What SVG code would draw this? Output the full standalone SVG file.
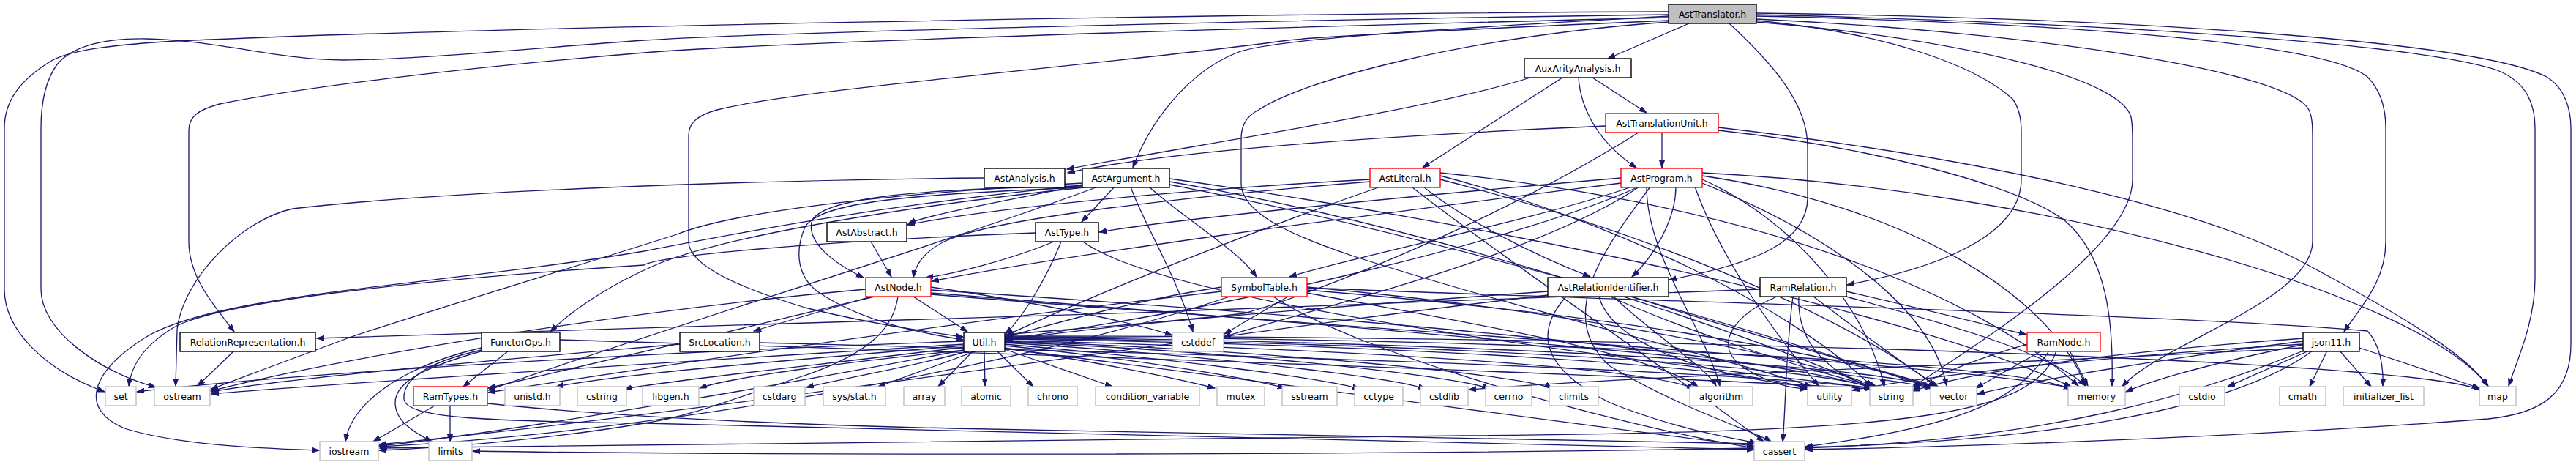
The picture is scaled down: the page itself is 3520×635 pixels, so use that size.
<svg xmlns="http://www.w3.org/2000/svg" width="3520" height="635" viewBox="0 0 3520 635">
<defs>
<marker id="ah" markerWidth="11" markerHeight="8" refX="10" refY="3.5" orient="auto" markerUnits="userSpaceOnUse"><polygon points="0,0 10,3.5 0,7" fill="#191970" stroke="#191970"/></marker>
<style>
.e path{fill:none;stroke:#191970;stroke-width:1.3;marker-end:url(#ah)}
.n rect{fill:#fff;stroke:#000;stroke-width:1.4}
.r rect{fill:#fff;stroke:#ff0000;stroke-width:1.4}
.s rect{fill:#fff;stroke:#bfbfbf;stroke-width:1.4}
.g rect{fill:#bfbfbf;stroke:#000;stroke-width:1.4}
text{font-family:"DejaVu Sans","Liberation Sans",sans-serif;font-size:12.5px;fill:#000;text-anchor:middle}
</style>
</defs>
<rect width="3520" height="635" fill="#fff"/>
<g id="edges" class="e">
<path d="M2308,32 L2197,80"/>
<path d="M2280,22 C2000,38 1740,52 1690,72 C1620,100 1570,170 1548,229"/>
<path d="M2363,32 C2420,85 2470,140 2470,200 L2470,270 C2470,330 2400,360 2281,382"/>
<path d="M2400,28 C2580,45 2700,90 2750,135 C2760,148 2762,165 2762,180 L2762,245 C2762,310 2680,360 2524,389"/>
<path d="M2400,30 C2700,55 2900,110 2912,160 C2914,170 2914,180 2914,190 L2914,245 C2914,340 2700,470 2613,529"/>
<path d="M2400,26 C2800,45 3130,100 3155,150 C3160,160 3160,175 3160,190 L3160,330 C3160,410 2950,470 2900,528"/>
<path d="M2400,22 C2850,32 3180,60 3235,105 C3255,125 3260,150 3260,175 L3260,330 C3260,385 3225,420 3203,453"/>
<path d="M2400,20 C2900,32 3300,60 3410,95 C3455,112 3464,145 3464,175 L3464,380 C3464,440 3440,490 3428,527"/>
<path d="M2400,18 C2900,24 3380,55 3480,105 C3505,120 3513,150 3513,175 L3513,470 C3513,540 3470,565 3400,572 C3100,595 2700,610 2467,614"/>
<path d="M2280,16 C1700,18 600,38 224,57 C150,62 100,68 72,82 C25,110 6,140 6,175 L6,395 C6,450 60,505 143,535"/>
<path d="M2280,20 C1800,26 1050,44 880,55 C700,68 560,82 470,82 C380,82 300,55 200,53 C130,52 95,68 78,88 C62,110 56,140 56,175 L56,395 C56,450 130,505 213,529"/>
<path d="M2280,24 C1700,38 1050,58 880,72 C600,95 400,122 300,142 C270,150 258,160 258,178 L258,330 C258,380 295,420 320,453"/>
<path d="M2280,28 C2000,40 1800,50 1760,55 C1500,90 1100,120 980,150 C950,158 941,170 941,185 L941,330 C941,360 1000,390 1100,420 C1200,445 1280,455 1316,460"/>
<path d="M2280,30 C2000,50 1780,110 1720,150 C1700,160 1696,175 1696,190 L1696,250 C1696,290 1760,320 1850,350 C2100,430 2400,500 2475,528"/>
<path d="M2091,106 C1950,150 1650,195 1458,231"/>
<path d="M2135,106 L1944,229"/>
<path d="M2157,106 C2160,150 2185,195 2236,229"/>
<path d="M2176,106 L2250,154"/>
<path d="M2271,181 L2271,229"/>
<path d="M2194,172 C1900,185 1600,205 1459,236"/>
<path d="M2239,181 C2050,300 1800,400 1700,428 C1550,445 1420,452 1375,457"/>
<path d="M2348,178 C2550,200 2750,250 2820,300 C2880,350 2888,440 2886,527"/>
<path d="M2348,174 C2700,215 3000,280 3150,360 C3300,440 3375,490 3399,527"/>
<path d="M1345,243 C1000,246 600,262 400,285 C330,300 250,380 242,450 L240,527"/>
<path d="M1479,252 C1400,270 1280,290 1241,305"/>
<path d="M1479,254 C1250,258 1130,270 1110,300 C1100,330 1140,360 1180,379"/>
<path d="M1479,256 C1250,265 1120,275 1100,310 C1085,345 1090,380 1120,400 C1180,440 1260,455 1316,464"/>
<path d="M1523,255 L1478,303"/>
<path d="M1545,255 C1560,300 1610,380 1630,453"/>
<path d="M1570,255 C1620,300 1690,340 1717,378"/>
<path d="M1481,256 C1250,280 1000,320 900,360 C830,390 780,425 752,453"/>
<path d="M1480,250 C1200,265 1000,290 925,320 C800,360 600,420 480,460 C400,490 330,515 288,532"/>
<path d="M1598,248 C1900,300 2300,420 2558,529"/>
<path d="M1598,252 C1950,320 2400,450 2640,530"/>
<path d="M1598,244 C2000,300 2600,420 2830,528"/>
<path d="M1480,253 C1200,280 1000,320 880,343 C600,390 300,400 200,460 C120,510 110,560 170,585 C250,610 380,613 436,615"/>
<path d="M1500,255 C1300,330 900,450 667,533"/>
<path d="M1872,245 C1600,260 1350,285 1240,307"/>
<path d="M1872,248 C1600,270 1350,300 1290,330 C1260,345 1250,365 1248,379"/>
<path d="M1945,255 C2000,300 2100,350 2173,378"/>
<path d="M1886,255 C1700,320 1500,400 1375,458"/>
<path d="M1968,240 C2200,300 2450,420 2558,528"/>
<path d="M1968,245 C2300,330 2550,450 2645,528"/>
<path d="M1968,236 C2400,280 2700,400 2840,527"/>
<path d="M1930,256 C2050,350 2300,520 2410,603"/>
<path d="M2215,243 C1900,270 1600,300 1502,317"/>
<path d="M2215,250 C1900,290 1500,340 1273,384"/>
<path d="M2290,255 C2290,300 2260,350 2230,378"/>
<path d="M2230,255 C2100,300 1850,350 1762,378"/>
<path d="M2239,255 C2100,320 1700,420 1374,463"/>
<path d="M2240,255 C2100,350 1800,420 1672,460"/>
<path d="M2255,255 C2200,330 2120,430 2200,500 C2300,560 2400,590 2420,603"/>
<path d="M2316,255 C2350,350 2420,450 2485,527"/>
<path d="M2326,245 C2450,300 2550,420 2575,528"/>
<path d="M2326,250 C2500,320 2640,420 2660,527"/>
<path d="M2326,240 C2600,280 2800,400 2850,527"/>
<path d="M2326,236 C2800,260 3300,400 3400,527"/>
<path d="M2250,255 C2250,350 2330,450 2350,527"/>
<path d="M1190,330 L1218,378"/>
<path d="M1440,330 C1380,355 1300,375 1265,379"/>
<path d="M1450,330 C1430,380 1400,430 1374,456"/>
<path d="M1415,318 C1100,330 900,350 880,362 C600,380 300,410 236,448 C200,470 180,495 176,527"/>
<path d="M1480,330 C1600,420 2300,500 2560,530"/>
<path d="M1190,405 L1030,452"/>
<path d="M1248,405 L1322,453"/>
<path d="M1272,392 C1400,410 1550,440 1602,458"/>
<path d="M1183,395 C900,420 500,480 288,534"/>
<path d="M1195,405 C1050,440 800,500 667,530"/>
<path d="M1227,405 C1222,440 1200,480 1093,515 C1000,545 940,570 880,578 C750,600 600,612 518,615"/>
<path d="M1272,396 C1800,430 2400,480 2560,530"/>
<path d="M1272,400 C1900,450 2500,500 2642,530"/>
<path d="M1272,402 C2000,460 2700,500 2830,530"/>
<path d="M1669,392 C1550,410 1450,440 1374,460"/>
<path d="M1760,405 L1673,456"/>
<path d="M1786,392 C2100,420 2450,480 2565,529"/>
<path d="M1680,405 C1400,500 900,590 518,610"/>
<path d="M1740,405 C1850,480 2200,580 2397,612"/>
<path d="M1669,398 C1300,440 900,500 667,536"/>
<path d="M1786,400 C2000,440 2250,480 2320,528"/>
<path d="M1786,396 C2200,430 2500,480 2645,530"/>
<path d="M1786,393 C2200,410 3000,430 3235,452 C3252,470 3257,500 3256,527"/>
<path d="M2115,398 C1800,420 1500,445 1374,465"/>
<path d="M2140,405 C2100,450 2100,500 2200,550 C2300,590 2380,600 2400,605"/>
<path d="M2185,405 C2200,460 2300,510 2478,529"/>
<path d="M2200,405 C2300,450 2450,500 2565,529"/>
<path d="M2230,405 C2400,460 2550,500 2650,529"/>
<path d="M2115,403 C1700,450 1000,560 518,607"/>
<path d="M2205,405 C2250,450 2330,500 2345,527"/>
<path d="M2405,395 C1800,420 900,450 433,462"/>
<path d="M2523,398 C2620,420 2700,440 2769,457"/>
<path d="M2428,405 C2370,430 2340,470 2380,500 C2410,520 2440,530 2470,531"/>
<path d="M2458,405 C2455,470 2500,510 2560,530"/>
<path d="M2478,405 C2550,460 2620,510 2648,528"/>
<path d="M2450,405 C2440,480 2440,560 2436,603"/>
<path d="M2523,405 C2650,440 2800,480 2850,527"/>
<path d="M320,479 L270,527"/>
<path d="M695,479 L633,528"/>
<path d="M658,475 C550,500 480,550 472,603"/>
<path d="M658,478 C580,495 550,520 552,545 C555,570 650,575 880,578 C1400,590 2100,608 2397,614"/>
<path d="M660,479 C585,500 540,520 540,550 C540,575 565,590 590,603"/>
<path d="M765,464 C1300,480 2200,510 2558,531"/>
<path d="M929,470 C700,490 400,515 289,535"/>
<path d="M1038,468 C1500,480 2300,500 2557,530"/>
<path d="M1320,478 C1150,495 1000,515 956,530"/>
<path d="M1325,479 C1250,500 1160,515 1102,529"/>
<path d="M1335,479 L1200,528"/>
<path d="M1330,479 L1282,528"/>
<path d="M1345,479 L1346,527"/>
<path d="M1362,479 L1412,528"/>
<path d="M1373,477 L1520,528"/>
<path d="M1373,475 C1500,495 1600,515 1660,530"/>
<path d="M1373,472 C1550,490 1700,515 1756,530"/>
<path d="M1373,470 C1600,490 1800,515 1858,531"/>
<path d="M1373,468 C1650,485 1900,515 1948,531"/>
<path d="M1373,467 C1700,480 2000,515 2035,531"/>
<path d="M1373,466 C1750,478 2100,515 2120,531"/>
<path d="M1373,465 C1800,475 2250,500 2315,531"/>
<path d="M1373,463 C1900,470 2400,500 2472,532"/>
<path d="M1373,462 C1950,468 2500,500 2560,531"/>
<path d="M1373,461 C2000,466 2600,500 2643,531"/>
<path d="M1373,460 C2100,462 2780,495 2830,533"/>
<path d="M1373,459 C2200,458 3300,490 3390,533"/>
<path d="M1373,476 C1800,530 2300,600 2397,609"/>
<path d="M1317,478 C1100,520 700,590 518,609"/>
<path d="M1317,466 C900,480 400,510 187,535"/>
<path d="M1317,470 C1000,490 500,520 289,538"/>
<path d="M1317,472 C1100,490 850,510 760,528"/>
<path d="M1317,474 C1150,495 950,515 853,531"/>
<path d="M594,554 L510,603"/>
<path d="M615,554 L615,603"/>
<path d="M666,551 C800,565 1000,578 1300,585 C1800,595 2200,600 2397,606"/>
<path d="M2790,479 L2700,530"/>
<path d="M2828,479 L2853,527"/>
<path d="M2800,479 C2760,540 2700,580 2467,610"/>
<path d="M2810,479 C2780,570 2600,590 2000,595 C1200,600 700,608 519,612"/>
<path d="M2770,470 C2700,490 2650,510 2614,532"/>
<path d="M3147,462 C2900,480 2700,505 2614,534"/>
<path d="M3147,466 C2950,490 2780,520 2702,538"/>
<path d="M3150,470 C3050,490 2950,515 2905,535"/>
<path d="M3155,479 L3044,528"/>
<path d="M3180,479 L3156,528"/>
<path d="M3197,479 L3240,528"/>
<path d="M3224,475 L3388,530"/>
<path d="M3147,475 C2800,495 2300,510 2007,532"/>
<path d="M3160,479 C3050,560 2800,600 2500,610 C1800,625 900,620 646,616"/>
<path d="M3150,478 C3000,540 2800,600 2467,612"/>
<path d="M3147,470 C2900,485 2650,510 2531,533"/>
</g>
<g id="node-AstTranslator" class="g"><rect x="2280" y="6" width="120" height="26"/><text x="2340" y="23.5">AstTranslator.h</text></g>
<g id="node-AuxArityAnalysis" class="n"><rect x="2083" y="80" width="146" height="26"/><text x="2156" y="97.5">AuxArityAnalysis.h</text></g>
<g id="node-AstTranslationUnit" class="r"><rect x="2194" y="155" width="154" height="26"/><text x="2271" y="172.5">AstTranslationUnit.h</text></g>
<g id="node-AstAnalysis" class="n"><rect x="1345" y="230" width="110" height="26"/><text x="1400" y="247.5">AstAnalysis.h</text></g>
<g id="node-AstArgument" class="n"><rect x="1479" y="230" width="119" height="26"/><text x="1538.5" y="247.5">AstArgument.h</text></g>
<g id="node-AstLiteral" class="r"><rect x="1872" y="230" width="96" height="26"/><text x="1920" y="247.5">AstLiteral.h</text></g>
<g id="node-AstProgram" class="r"><rect x="2215" y="230" width="111" height="26"/><text x="2270.5" y="247.5">AstProgram.h</text></g>
<g id="node-AstAbstract" class="n"><rect x="1130" y="304" width="109" height="26"/><text x="1184.5" y="321.5">AstAbstract.h</text></g>
<g id="node-AstType" class="n"><rect x="1415" y="304" width="86" height="26"/><text x="1458" y="321.5">AstType.h</text></g>
<g id="node-AstNode" class="r"><rect x="1183" y="379" width="89" height="26"/><text x="1227.5" y="396.5">AstNode.h</text></g>
<g id="node-SymbolTable" class="r"><rect x="1669" y="379" width="117" height="26"/><text x="1727.5" y="396.5">SymbolTable.h</text></g>
<g id="node-AstRelationIdentifier" class="n"><rect x="2115" y="379" width="165" height="26"/><text x="2197.5" y="396.5">AstRelationIdentifier.h</text></g>
<g id="node-RamRelation" class="n"><rect x="2405" y="379" width="118" height="26"/><text x="2464" y="396.5">RamRelation.h</text></g>
<g id="node-RelationRepresentation" class="n"><rect x="246" y="454" width="185" height="26"/><text x="338.5" y="471.5">RelationRepresentation.h</text></g>
<g id="node-FunctorOps" class="n"><rect x="658" y="454" width="107" height="26"/><text x="711.5" y="471.5">FunctorOps.h</text></g>
<g id="node-SrcLocation" class="n"><rect x="929" y="454" width="109" height="26"/><text x="983.5" y="471.5">SrcLocation.h</text></g>
<g id="node-Util" class="n"><rect x="1317" y="454" width="56" height="26"/><text x="1345" y="471.5">Util.h</text></g>
<g id="node-cstddef" class="s"><rect x="1602" y="454" width="70" height="26"/><text x="1637" y="471.5">cstddef</text></g>
<g id="node-RamNode" class="r"><rect x="2770" y="454" width="100" height="26"/><text x="2820" y="471.5">RamNode.h</text></g>
<g id="node-json11" class="n"><rect x="3147" y="454" width="77" height="26"/><text x="3185.5" y="471.5">json11.h</text></g>
<g id="node-set" class="s"><rect x="144" y="528" width="42" height="26"/><text x="165" y="545.5">set</text></g>
<g id="node-ostream" class="s"><rect x="211" y="528" width="76" height="26"/><text x="249" y="545.5">ostream</text></g>
<g id="node-RamTypes" class="r"><rect x="565" y="528" width="101" height="26"/><text x="615.5" y="545.5">RamTypes.h</text></g>
<g id="node-unistd" class="s"><rect x="690" y="528" width="75" height="26"/><text x="727.5" y="545.5">unistd.h</text></g>
<g id="node-cstring" class="s"><rect x="789" y="528" width="67" height="26"/><text x="822.5" y="545.5">cstring</text></g>
<g id="node-libgen" class="s"><rect x="878" y="528" width="77" height="26"/><text x="916.5" y="545.5">libgen.h</text></g>
<g id="node-cstdarg" class="s"><rect x="1030" y="528" width="70" height="26"/><text x="1065" y="545.5">cstdarg</text></g>
<g id="node-sysstat" class="s"><rect x="1125" y="528" width="85" height="26"/><text x="1167.5" y="545.5">sys/stat.h</text></g>
<g id="node-array" class="s"><rect x="1235" y="528" width="56" height="26"/><text x="1263" y="545.5">array</text></g>
<g id="node-atomic" class="s"><rect x="1314" y="528" width="67" height="26"/><text x="1347.5" y="545.5">atomic</text></g>
<g id="node-chrono" class="s"><rect x="1405" y="528" width="67" height="26"/><text x="1438.5" y="545.5">chrono</text></g>
<g id="node-condition_variable" class="s"><rect x="1497" y="528" width="142" height="26"/><text x="1568" y="545.5">condition_variable</text></g>
<g id="node-mutex" class="s"><rect x="1663" y="528" width="65" height="26"/><text x="1695.5" y="545.5">mutex</text></g>
<g id="node-sstream" class="s"><rect x="1752" y="528" width="75" height="26"/><text x="1789.5" y="545.5">sstream</text></g>
<g id="node-cctype" class="s"><rect x="1851" y="528" width="66" height="26"/><text x="1884" y="545.5">cctype</text></g>
<g id="node-cstdlib" class="s"><rect x="1941" y="528" width="65" height="26"/><text x="1973.5" y="545.5">cstdlib</text></g>
<g id="node-cerrno" class="s"><rect x="2030" y="528" width="63" height="26"/><text x="2061.5" y="545.5">cerrno</text></g>
<g id="node-climits" class="s"><rect x="2117" y="528" width="67" height="26"/><text x="2150.5" y="545.5">climits</text></g>
<g id="node-algorithm" class="s"><rect x="2309" y="528" width="86" height="26"/><text x="2352" y="545.5">algorithm</text></g>
<g id="node-utility" class="s"><rect x="2470" y="528" width="60" height="26"/><text x="2500" y="545.5">utility</text></g>
<g id="node-string" class="s"><rect x="2555" y="528" width="59" height="26"/><text x="2584.5" y="545.5">string</text></g>
<g id="node-vector" class="s"><rect x="2638" y="528" width="63" height="26"/><text x="2669.5" y="545.5">vector</text></g>
<g id="node-memory" class="s"><rect x="2826" y="528" width="78" height="26"/><text x="2865" y="545.5">memory</text></g>
<g id="node-cstdio" class="s"><rect x="2978" y="528" width="62" height="26"/><text x="3009" y="545.5">cstdio</text></g>
<g id="node-cmath" class="s"><rect x="3115" y="528" width="63" height="26"/><text x="3146.5" y="545.5">cmath</text></g>
<g id="node-initializer_list" class="s"><rect x="3202" y="528" width="110" height="26"/><text x="3257" y="545.5">initializer_list</text></g>
<g id="node-map" class="s"><rect x="3388" y="528" width="50" height="26"/><text x="3413" y="545.5">map</text></g>
<g id="node-iostream" class="s"><rect x="437" y="603" width="80" height="26"/><text x="477" y="620.5">iostream</text></g>
<g id="node-limits" class="s"><rect x="586" y="603" width="59" height="26"/><text x="615.5" y="620.5">limits</text></g>
<g id="node-cassert" class="s"><rect x="2397" y="603" width="69" height="26"/><text x="2431.5" y="620.5">cassert</text></g>
</svg>
